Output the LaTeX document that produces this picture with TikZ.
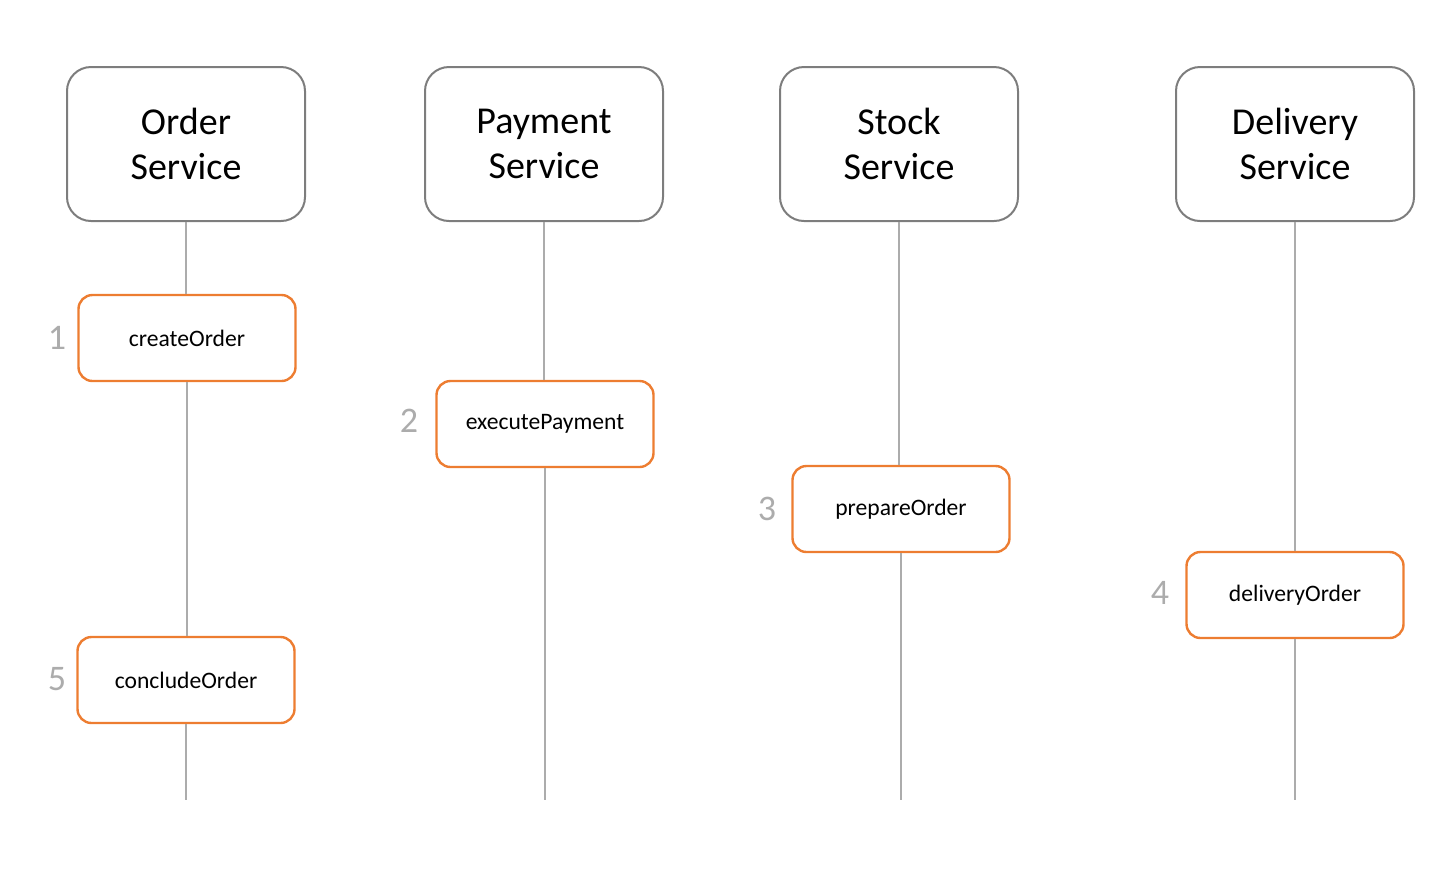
\documentclass[tikz,border=0pt]{standalone}
\usepackage{fontspec}
\setmainfont{Carlito}
\usetikzlibrary{positioning}
\definecolor{stepOrange}{RGB}{237,125,49}
\definecolor{lifeGray}{RGB}{172,172,172}
\definecolor{boxGray}{RGB}{125,125,125}

\begin{document}
\begin{tikzpicture}[x=0.5pt,y=-0.5pt,
		service/.style={draw=boxGray,line width=1pt,rounded corners=12pt,minimum width=119pt,minimum height=77pt,
			align=center,inner sep=0pt,font=\fontsize{19}{22.5}\selectfont},
		stepbox/.style={draw=stepOrange,fill=white,line width=1.2pt,rounded corners=7pt,minimum width=108.5pt,
			minimum height=43pt,font=\fontsize{11.8}{14}\selectfont},
		num/.style={text=lifeGray,font=\fontsize{18}{21}\selectfont},
		life/.style={draw=lifeGray,line width=1pt}]
			\useasboundingbox (0,0) rectangle (1454,874);

			\node[service] (order)    at (186 , 144) {Order\\Service};
			\node[service] (payment)  at (544 , 144) {Payment\\Service};
			\node[service] (stock)    at (899 , 144) {Stock\\Service};
			\node[service] (delivery) at (1295, 144) {Delivery\\Service};

			\node[stepbox] (create)   at (187 , 338) {createOrder};
			\node[stepbox] (execute)  at (545 , 424) {executePayment};
			\node[stepbox] (prepare)  at (901 , 509) {prepareOrder};
			\node[stepbox] (deliver)  at (1295, 595) {deliveryOrder};
			\node[stepbox] (conclude) at (186 , 680) {concludeOrder};

			\node[num] (n1) at (57  , 338) {1};
			\node[num] (n2) at (409 , 421) {2};
			\node[num] (n3) at (767 , 509) {3};
			\node[num] (n4) at (1160, 593) {4};
			\node[num] (n5) at (57  , 679) {5};

			\coordinate (orderEnd)    at (186 , 800);
			\coordinate (paymentEnd)  at (544 , 800);
			\coordinate (stockEnd)    at (899 , 800);
			\coordinate (deliveryEnd) at (1295, 800);

			\def\segments {order/create, create/conclude, conclude/orderEnd, payment/execute, execute/paymentEnd,
				stock/prepare, prepare/stockEnd, delivery/deliver, deliver/deliveryEnd}  % lifelines
			\foreach \u\v in \segments
			{	\draw[life] (\u.center |- \u.south) -- (\u.center |- \v.north);
			}
		\end{tikzpicture}
\end{document}
